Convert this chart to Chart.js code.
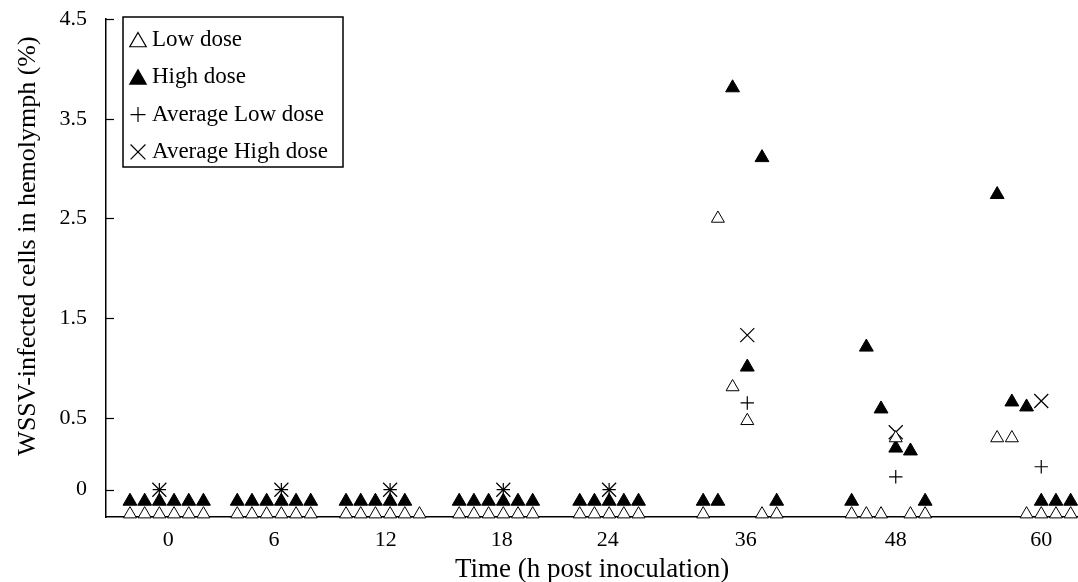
<!DOCTYPE html>
<html>
<head>
<meta charset="utf-8">
<script src="https://cdn.jsdelivr.net/npm/chart.js@4.4.1/dist/chart.umd.min.js"></script>
<style>
  html, body { margin: 0; padding: 0; background: #fff; }
</style>
</head>
<body>
<canvas id="chart" width="1078" height="582"></canvas>
<script>
// sampling times (h post inoculation) and where each group sits on the sample axis
const timeLabels = ['0', '6', '12', '18', '24', '36', '48', '60'];
const groupStart = [0, 7.3, 14.7, 22.4, 30.6, 39.0, 49.1, 59.0];
const labelPos = [2.6, 9.8, 17.4, 25.3, 32.5, 41.9, 52.1, 62.0];
const avgSlot = [2, 3, 3, 3, 2, 3, 3, 3];

// % infected cells per shrimp (zero readings are drawn just under the 0 line)
const lowDose = [
  [-0.17, -0.17, -0.17, -0.17, -0.17, -0.17],
  [-0.17, -0.17, -0.17, -0.17, -0.17, -0.17],
  [-0.17, -0.17, -0.17, -0.17, -0.17, -0.17],
  [-0.17, -0.17, -0.17, -0.17, -0.17, -0.17],
  [-0.17, -0.17, -0.17, -0.17, -0.17],
  [-0.17, 2.50, 0.81, 0.48, -0.17, -0.17],
  [-0.17, -0.17, -0.17, 0.36, -0.17, -0.17],
  [0.36, 0.36, -0.17, -0.17, -0.17, -0.17],
];
const highDose = [
  [-0.08, -0.08, -0.08, -0.08, -0.08, -0.08],
  [-0.08, -0.08, -0.08, -0.08, -0.08, -0.08],
  [-0.08, -0.08, -0.08, -0.08, -0.08],
  [-0.08, -0.08, -0.08, -0.08, -0.08, -0.08],
  [-0.08, -0.08, -0.08, -0.08, -0.08],
  [-0.08, -0.08, 3.81, 1.01, 3.11, -0.08],
  [-0.08, 1.21, 0.59, 0.29, 0.27, -0.08],
  [2.74, 0.66, 0.61, -0.08, -0.08, -0.08],
];
const avgLow = [0, 0, 0, 0, 0, 0.65, 0.09, 0.16];
const avgHigh = [0, 0, 0, 0, 0, 1.33, 0.40, 0.67];

const yTicks = [0, 0.5, 1.5, 2.5, 3.5, 4.5];
const yTickLabels = ['0', '0.5', '1.5', '2.5', '3.5', '4.5'];

const FONT = "'Liberation Serif', 'Times New Roman', serif";

// the figure's y axis is stretched below 0.5 (0 -> 0.5 takes 72px, 1 unit above takes 100px)
const Y_BREAK = 0.5;
const LOW_STRETCH = 1.44;
function warp(v) { return v >= Y_BREAK ? v : Y_BREAK - (Y_BREAK - v) * LOW_STRETCH; }
function unwarp(w) { return w >= Y_BREAK ? w : Y_BREAK - (Y_BREAK - w) / LOW_STRETCH; }

class BrokenScale extends Chart.LinearScale {
  determineDataLimits() {
    super.determineDataLimits();
    this.min = warp(this.min);
    this.max = warp(this.max);
  }
  getPixelForValue(value) { return super.getPixelForValue(warp(value)); }
  getValueForPixel(pixel) { return unwarp(super.getValueForPixel(pixel)); }
}
BrokenScale.id = 'broken';
BrokenScale.defaults = Chart.LinearScale.defaults;
Chart.register(BrokenScale);

function samplePoints(groups) {
  const out = [];
  groups.forEach((vals, g) => vals.forEach((v, i) => out.push({ x: groupStart[g] + i, y: v })));
  return out;
}
function avgPoints(vals) {
  return vals.map((v, g) => ({ x: groupStart[g] + avgSlot[g], y: v }));
}

function noScalePadding(s) {
  s.paddingLeft = 0;
  s.paddingRight = 0;
  s.paddingTop = 0;
  s.paddingBottom = 0;
}

const figureDecor = {
  id: 'figureDecor',
  afterDraw(chart) {
    const { ctx, chartArea } = chart;
    const ys = chart.scales.y;
    ctx.save();
    // inward tick marks on the y axis
    ctx.strokeStyle = '#000';
    ctx.lineWidth = 1.2;
    ys.ticks.forEach((t, i) => {
      const py = Math.round(ys.getPixelForTick(i)) + 0.5;
      ctx.beginPath();
      ctx.moveTo(chartArea.left, py);
      ctx.lineTo(chartArea.left + 8, py);
      ctx.stroke();
    });

    // axis titles
    ctx.fillStyle = '#000';
    ctx.font = '26px ' + FONT;
    ctx.textAlign = 'center';
    ctx.textBaseline = 'middle';
    ctx.save();
    ctx.translate(28, 246);
    ctx.rotate(-Math.PI / 2);
    ctx.fillText('WSSV-infected cells in hemolymph (%)', 0, 0);
    ctx.restore();
    ctx.font = '27px ' + FONT;
    ctx.textBaseline = 'alphabetic';
    ctx.fillText('Time (h post inoculation)', (chartArea.left + chartArea.right) / 2, 577);

    // legend box
    const lx = 123, ly = 17, lw = 220, lh = 150;
    ctx.fillStyle = '#fff';
    ctx.fillRect(lx, ly, lw, lh);
    ctx.lineWidth = 1.5;
    ctx.strokeStyle = '#000';
    ctx.strokeRect(lx, ly, lw, lh);
    const legendRadius = [9.5, 9.5, 7.5, 10.5];
    ctx.font = '23px ' + FONT;
    ctx.textAlign = 'left';
    ctx.textBaseline = 'middle';
    chart.data.datasets.forEach((ds, i) => {
      const cy = ly + 23 + i * 37.3;
      ctx.fillStyle = ds.pointBackgroundColor || '#000';
      ctx.strokeStyle = '#000';
      ctx.lineWidth = 1.2;
      Chart.helpers.drawPoint(ctx, { pointStyle: ds.pointStyle, radius: legendRadius[i], rotation: 0, borderWidth: 1.2 }, lx + 15, cy + (ds.pointStyle === 'triangle' ? 2 : 0));
      ctx.fillStyle = '#000';
      ctx.fillText(ds.label, lx + 29, cy);
    });
    ctx.restore();
  }
};

new Chart(document.getElementById('chart'), {
  type: 'scatter',
  data: {
    datasets: [
      { label: 'Low dose', data: samplePoints(lowDose), pointStyle: 'triangle', pointRadius: 7.5,
        pointBackgroundColor: '#fff', pointBorderColor: '#000', pointBorderWidth: 1, clip: false },
      { label: 'High dose', data: samplePoints(highDose), pointStyle: 'triangle', pointRadius: 8,
        pointBackgroundColor: '#000', pointBorderColor: '#000', pointBorderWidth: 1, clip: false },
      { label: 'Average Low dose', data: avgPoints(avgLow), pointStyle: 'cross', pointRadius: 6.7,
        pointBorderColor: '#000', pointBorderWidth: 1.2, clip: false },
      { label: 'Average High dose', data: avgPoints(avgHigh), pointStyle: 'crossRot', pointRadius: 9.9,
        pointBorderColor: '#000', pointBorderWidth: 1.2, clip: false },
    ],
  },
  options: {
    responsive: false,
    animation: false,
    events: [],
    layout: { autoPadding: false, padding: { top: 19, left: 0, right: 0, bottom: 0 } },
    plugins: { legend: { display: false }, tooltip: { enabled: false } },
    scales: {
      x: {
        type: 'linear',
        min: -1.63,
        max: 64.5,
        bounds: 'data',
        grid: { display: false, drawTicks: false },
        border: { display: true, color: '#000', width: 1.5 },
        ticks: {
          autoSkip: false, maxRotation: 0, padding: 10, color: '#000',
          font: { family: FONT, size: 22 },
          callback: (v, i) => timeLabels[i],
        },
        afterBuildTicks: (s) => { s.ticks = labelPos.map((v) => ({ value: v })); },
        afterFit: (s) => { s.height = 65; noScalePadding(s); },
      },
      y: {
        type: 'broken',
        min: -0.19,
        max: 4.5,
        bounds: 'data',
        grid: { display: false, drawTicks: false },
        border: { display: true, color: '#000', width: 1.5 },
        ticks: {
          autoSkip: false, padding: 19, color: '#000',
          font: { family: FONT, size: 22 },
          callback: (v, i) => yTickLabels[i],
        },
        afterBuildTicks: (s) => { s.ticks = yTicks.map((v) => ({ value: v })); },
        afterFit: (s) => { s.width = 106; noScalePadding(s); },
      },
    },
  },
  plugins: [figureDecor],
});
</script>
</body>
</html>
